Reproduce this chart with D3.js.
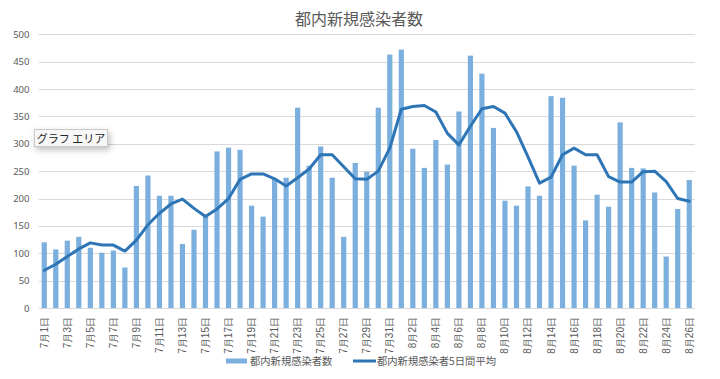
<!DOCTYPE html>
<html>
<head>
<meta charset="utf-8">
<script src="https://cdn.jsdelivr.net/npm/d3@7"></script>
<style>
  body { margin: 0; background: #fff; }
  #wrap { position: relative; width: 720px; height: 379px; }
  svg { font-family: "Noto Sans CJK JP", "Noto Sans", sans-serif; }
  #tip {
    position: absolute; left: 34px; top: 129px; width: 72px; height: 16px;
    background: #f7f7f7; border: 1px solid #c8c8c8;
    box-shadow: 2px 3px 6px rgba(0,0,0,0.25);
    font: 11px "Noto Sans CJK JP", sans-serif; color: #222;
    line-height: 16px; text-align: center;
  }
</style>
</head>
<body>
<div id="wrap">
  <svg id="chart" width="720" height="379"></svg>
  <div id="tip">グラフ エリア</div>
</div>
<script>
// 7/1 .. 8/26
var days = []
for (var m = 7; m <= 8; m++) {
  var last = m === 7 ? 31 : 26
  for (var d = 1; d <= last; d++) days.push(m + '月' + d + '日')
}

var cases = [
  120, 107, 123, 130, 110, 101, 105, 74, 223, 242,
  205, 205, 117, 143, 167, 286, 293, 289, 187, 167,
  236, 238, 366, 260, 295, 238, 130, 265, 249, 366,
  463, 472, 291, 256, 307, 262, 359, 461, 428, 329,
  196, 187, 222, 205, 387, 384, 260, 160, 207, 185,
  339, 256, 255, 211, 94, 181, 234
]

var avg5 = [
  69, 80, 94, 108, 119, 115, 115, 104, 124, 152,
  173, 190, 199, 182, 167, 181, 200, 235, 245, 245,
  236, 223, 238, 254, 280, 280, 258, 236, 235, 250,
  292, 363, 368, 370, 358, 319, 298, 332, 364, 368,
  356, 322, 276, 228, 239, 280, 292, 280, 280, 240,
  230, 230, 249, 250, 231, 200, 195
]

var yTicks = [0, 50, 100, 150, 200, 250, 300, 350, 400, 450, 500]

var svg = d3.select('#chart')
var plotL = 38.5, plotR = 695, plotT = 34.3, plotB = 308

var x = d3.scaleBand().domain(days).range([plotL, plotR]).paddingInner(0.55).paddingOuter(0.275)
var y = d3.scaleLinear().domain([0, 500]).range([plotB, plotT])
var grey = '#595959'

svg.append('text')
  .attr('x', 359).attr('y', 25)
  .attr('text-anchor', 'middle')
  .style('font-size', '16px').style('fill', grey)
  .text('都内新規感染者数')

// grid
svg.append('g').selectAll('line')
  .data(yTicks)
  .enter().append('line')
  .attr('x1', plotL).attr('x2', plotR)
  .attr('y1', function(d) { return Math.round(y(d)) + 0.5 })
  .attr('y2', function(d) { return Math.round(y(d)) + 0.5 })
  .style('stroke', '#d9d9d9').style('stroke-width', 1)

var yAxis = svg.append('g')
  .attr('transform', 'translate(' + (plotL - 9) + ',0)')
  .call(d3.axisLeft(y).tickValues(yTicks).tickSize(0).tickPadding(0))
yAxis.select('.domain').remove()
yAxis.selectAll('text').style('font-size', '9.5px').style('fill', grey)
  .style('font-family', '"Noto Sans", sans-serif')

svg.append('g').selectAll('rect')
  .data(cases)
  .enter().append('rect')
  .attr('x', function(d, i) { return x(days[i]) })
  .attr('width', x.bandwidth())
  .attr('y', function(d) { return y(d) })
  .attr('height', function(d) { return y(0) - y(d) })
  .style('fill', '#7bafde')

var line = d3.line()
  .x(function(d, i) { return x(days[i]) + x.bandwidth() / 2 })
  .y(function(d) { return y(d) })

svg.append('path')
  .datum(avg5)
  .attr('d', line)
  .style('fill', 'none')
  .style('stroke', '#2e75b6')
  .style('stroke-width', 3)
  .style('stroke-linejoin', 'round')
  .style('stroke-linecap', 'round')

var xAxis = svg.append('g')
  .attr('transform', 'translate(0,' + plotB + ')')
  .call(d3.axisBottom(x)
    .tickValues(days.filter(function(d, i) { return i % 2 === 0 }))
    .tickSize(0))
xAxis.select('.domain').remove()
xAxis.selectAll('text')
  .attr('transform', 'rotate(-90)')
  .attr('x', -9).attr('y', 0).attr('dy', '0.35em')
  .attr('text-anchor', 'end')
  .style('font-size', '10px').style('fill', grey)

// legend
var lg = svg.append('g').style('font-size', '10.3px').style('fill', grey)
lg.append('rect').attr('x', 226).attr('y', 358.5).attr('width', 21).attr('height', 5).style('fill', '#7bafde')
lg.append('text').attr('x', 250).attr('y', 364.5).text('都内新規感染者数')
lg.append('line').attr('x1', 353).attr('x2', 376).attr('y1', 361).attr('y2', 361)
  .style('stroke', '#2e75b6').style('stroke-width', 3)
lg.append('text').attr('x', 377).attr('y', 364.5).text('都内新規感染者5日間平均')
</script>
</body>
</html>
